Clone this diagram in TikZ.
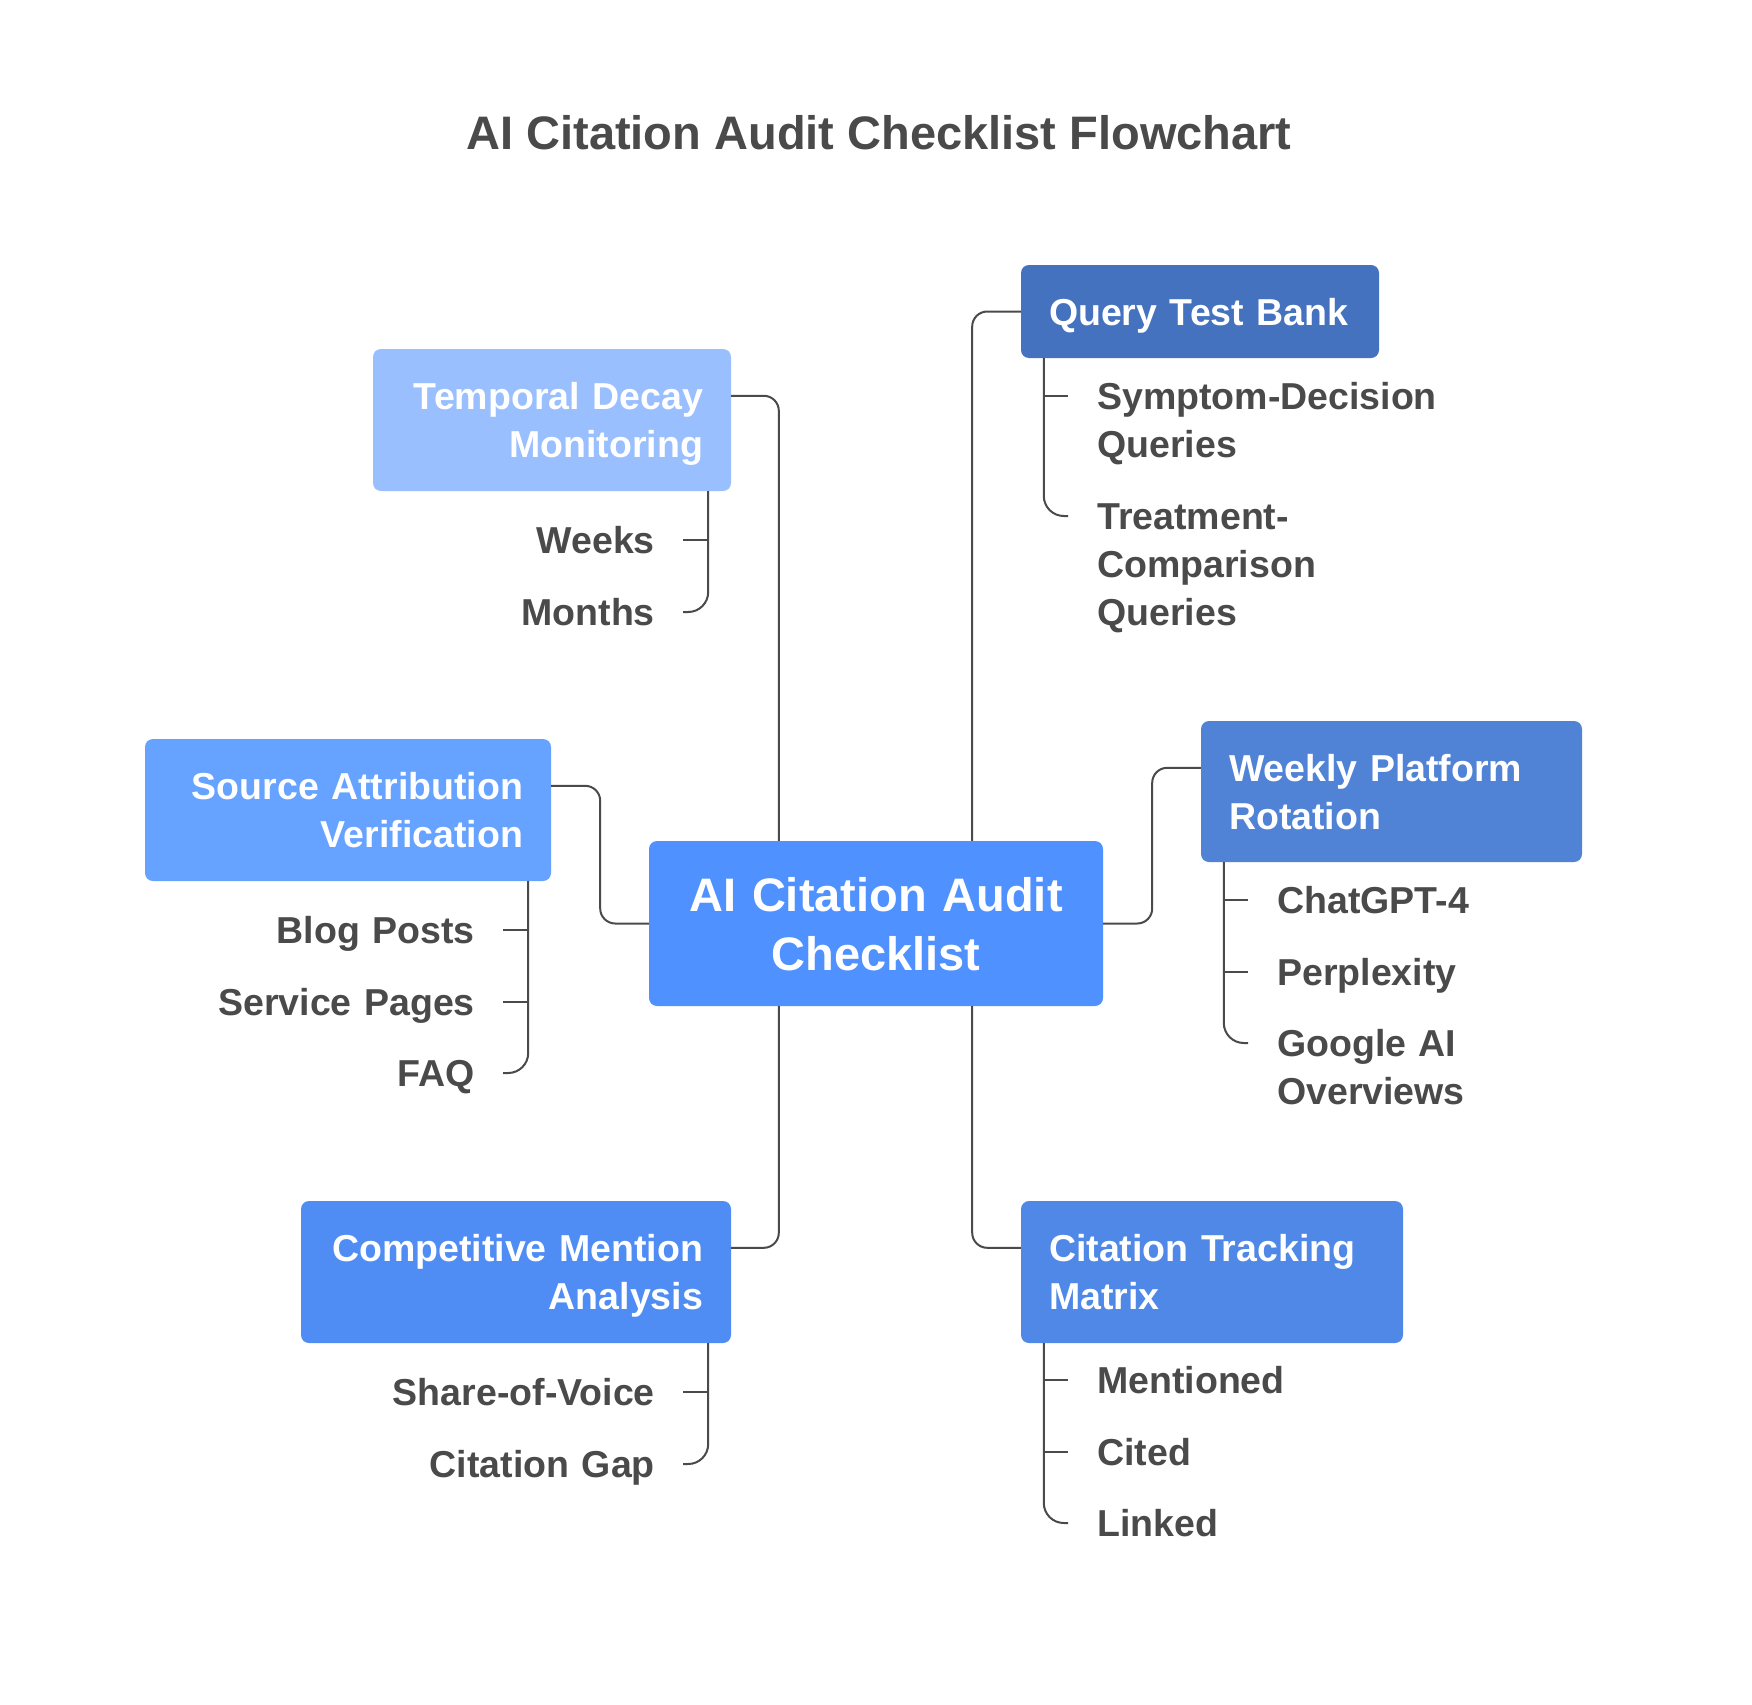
\documentclass[tikz,border=0pt]{standalone}
\usepackage{fontspec}
\setmainfont{Liberation Sans}
\usetikzlibrary{calc}

\definecolor{ink}{HTML}{4A4A4A}
\definecolor{tdmblue}{HTML}{99BFFF}
\definecolor{savblue}{HTML}{66A2FF}
\definecolor{hubblue}{HTML}{4F91FF}
\definecolor{cmablue}{HTML}{4F8DF5}
\definecolor{ctmblue}{HTML}{4F88E6}
\definecolor{wprblue}{HTML}{5082D6}
\definecolor{qtbblue}{HTML}{4572BF}

\tikzset{
	box/.style={rounded corners=8pt, inner xsep=28pt, inner ysep=0pt, text=white,
		font=\bfseries\fontsize{37.5}{48}\selectfont, text height=27pt},
	boxl/.style={box, align=left},
	boxr/.style={box, align=right},
	leaf/.style={text=ink, font=\bfseries\fontsize{37.5}{48}\selectfont, inner ysep=0pt,
		text height=27pt, text depth=0pt, text width=420pt},
	leafl/.style={leaf, inner xsep=29pt, anchor=west, align=left},
	leafr/.style={leaf, inner xsep=28pt, anchor=east, align=right},
	link/.style={draw=ink, line width=2pt, rounded corners=15pt},
	tree/.style={draw=ink, line width=2pt, rounded corners=20pt},
}

\begin{document}
\begin{tikzpicture}[x=1pt, y=-1pt]
			%%%%% START %%%%%
			
			\fill[white] (0, 0) rectangle (1752, 1704);
			\useasboundingbox (0, 0) rectangle (1752, 1704);
			
			\node[text=ink, font=\bfseries\fontsize{47}{56}\selectfont, anchor=base] (title) at (879, 150) {AI Citation Audit Checklist Flowchart};
			
			% centre
			\node[box, align=center, fill=hubblue, font=\bfseries\fontsize{47}{59}\selectfont, text height=34pt, text depth=59pt, text width=398pt, minimum height=165pt] (hub) at (876, 923.5) {AI Citation Audit\\Checklist};
			
			% branches
			\node[boxr, fill=tdmblue, text width=302pt, text depth=48pt, minimum height=142pt] (tdm) at (552, 420) {Temporal Decay\\Monitoring};
			\node[boxl, fill=qtbblue, text width=302pt, text depth=0pt, minimum height=93pt] (qtb) at (1200, 311.5) {Query Test Bank};
			\node[boxr, fill=savblue, text width=350pt, text depth=48pt, minimum height=142pt] (sav) at (348, 810) {Source Attribution\\Verification};
			\node[boxl, fill=wprblue, text width=325pt, text depth=48pt, minimum height=141pt] (wpr) at (1391.5, 791.5) {Weekly Platform\\Rotation};
			\node[boxr, fill=cmablue, text width=374pt, text depth=48pt, minimum height=142pt] (cma) at (516, 1272) {Competitive Mention\\Analysis};
			\node[boxl, fill=ctmblue, text width=326pt, text depth=48pt, minimum height=142pt] (ctm) at (1212, 1272) {Citation Tracking\\Matrix};
			
			\draw[link] ([yshift=-47pt]tdm.north east) -| ([xshift=130pt]hub.north west);
			\draw[link] ([xshift=-131pt]hub.north east) |- (qtb.west);
			\draw[link] ([yshift=-47pt]sav.north east) -- ++(49, 0) |- (hub.west);
			\draw[link] (hub.east) -- ++(49, 0) |- ([yshift=-47pt]wpr.north west);
			\draw[link] ([xshift=130pt]hub.south west) |- ([yshift=-47pt]cma.north east);
			\draw[link] ([xshift=-131pt]hub.south east) |- ([yshift=-47pt]ctm.north west);
			
			% temporal decay
			\coordinate (tdmtrunk) at ([xshift=-23pt]tdm.south east);
			\node[leafr] (weeks) at (683, 540) {Weeks};
			\node[leafr] (months) at (683, 612) {Months};
			\draw[tree] (tdmtrunk) |- (months.east);
			\draw[tree] (weeks.east) -- (weeks.east -| tdmtrunk);
			
			% query test bank
			\coordinate (qtbtrunk) at ([xshift=23pt]qtb.south west);
			\node[leafl] (sdq) at (1068, 396) {Symptom-Decision\\Queries};
			\node[leafl] (tcq) at (1068, 516) {Treatment-\\Comparison\\Queries};
			\draw[tree] (qtbtrunk) |- (tcq.west);
			\draw[tree] (sdq.west) -- (sdq.west -| qtbtrunk);
			
			% source attribution
			\coordinate (savtrunk) at ([xshift=-23pt]sav.south east);
			\node[leafr] (blog) at (503, 930) {Blog Posts};
			\node[leafr] (service) at (503, 1002) {Service Pages};
			\node[leafr] (faq) at (503, 1073) {FAQ};
			\draw[tree] (savtrunk) |- (faq.east);
			\draw[tree] (blog.east) -- (blog.east -| savtrunk);
			\draw[tree] (service.east) -- (service.east -| savtrunk);
			
			% weekly rotation
			\coordinate (wprtrunk) at ([xshift=23pt]wpr.south west);
			\node[leafl] (gpt) at (1248, 900) {ChatGPT-4};
			\node[leafl] (perplexity) at (1248, 972) {Perplexity};
			\node[leafl] (gaio) at (1248, 1043) {Google AI\\Overviews};
			\draw[tree] (wprtrunk) |- (gaio.west);
			\draw[tree] (gpt.west) -- (gpt.west -| wprtrunk);
			\draw[tree] (perplexity.west) -- (perplexity.west -| wprtrunk);
			
			% competitive mention
			\coordinate (cmatrunk) at ([xshift=-23pt]cma.south east);
			\node[leafr] (sov) at (683, 1392) {Share-of-Voice};
			\node[leafr] (gap) at (683, 1464) {Citation Gap};
			\draw[tree] (cmatrunk) |- (gap.east);
			\draw[tree] (sov.east) -- (sov.east -| cmatrunk);
			
			% citation tracking
			\coordinate (ctmtrunk) at ([xshift=23pt]ctm.south west);
			\node[leafl] (mentioned) at (1068, 1380) {Mentioned};
			\node[leafl] (cited) at (1068, 1452) {Cited};
			\node[leafl] (linked) at (1068, 1523) {Linked};
			\draw[tree] (ctmtrunk) |- (linked.west);
			\draw[tree] (mentioned.west) -- (mentioned.west -| ctmtrunk);
			\draw[tree] (cited.west) -- (cited.west -| ctmtrunk);
			
			%%%%% END %%%%%
\end{tikzpicture}
\end{document}
